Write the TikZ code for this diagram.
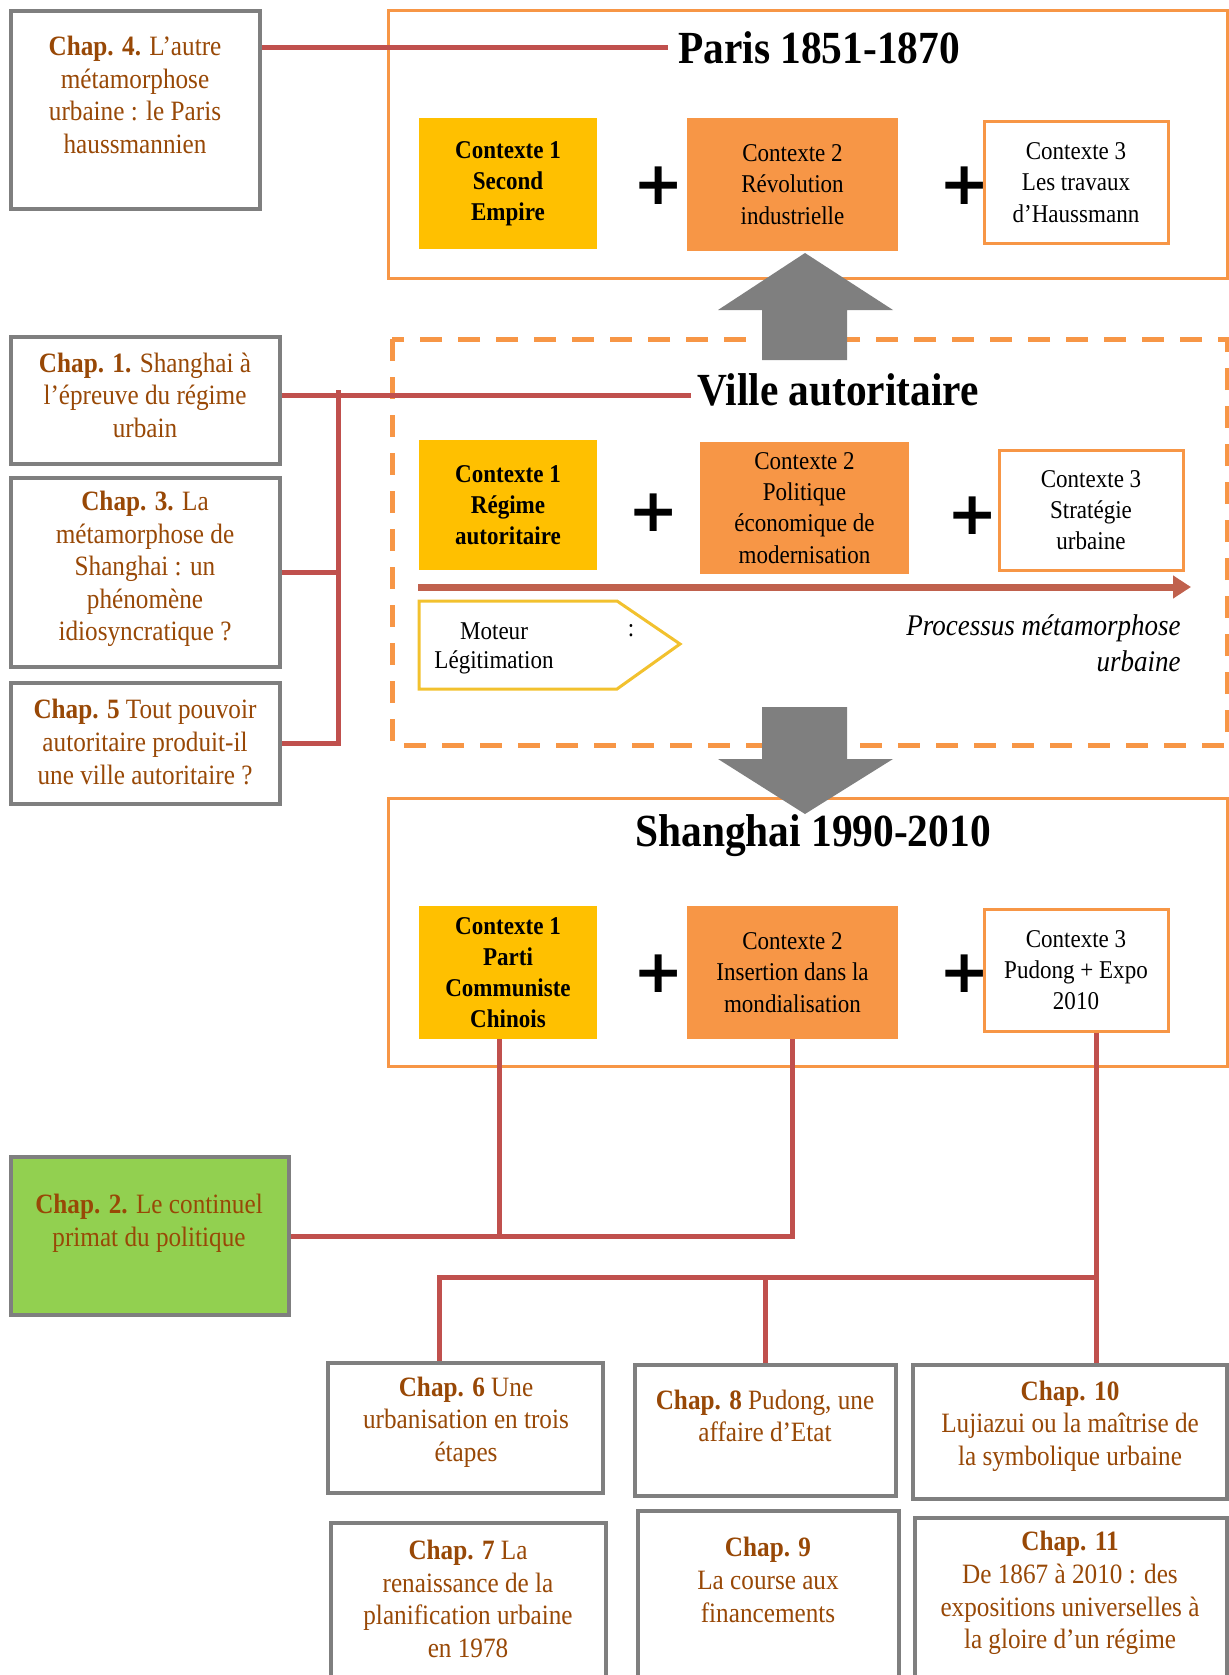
\documentclass[tikz,border=0pt]{standalone}
\usepackage{fontspec}
\setmainfont[FakeStretch=0.9]{Liberation Serif}
\newfontfamily\plusfont{DejaVu Sans}
\usepackage{tikz}
\usetikzlibrary{positioning, fit, arrows.meta}

\definecolor{jaune}{HTML}{FFC000}
\definecolor{orangec}{HTML}{F79646}
\definecolor{brun}{HTML}{984806}
\definecolor{rouge}{HTML}{C0504D}
\definecolor{rougeproc}{HTML}{C0614D}
\definecolor{gris}{HTML}{7F7F7F}
\definecolor{vert}{HTML}{92D050}
\definecolor{jauneligne}{HTML}{F2C12E}

\newcommand{\chap}[1]{\textbf{#1}}

\begin{document}
\begin{tikzpicture}
[
x=0.5pt, y=-0.5pt,
inner sep=0pt,
cadre/.style={draw=orangec, line width=1.5pt},
cadretir/.style={draw=orangec, line width=2.5pt, dash pattern=on 11pt off 8pt},
ctxone/.style={fill=jaune},
ctxtwo/.style={fill=orangec},
ctxthree/.style={draw=orangec, line width=1.5pt, fill=white},
ctxtxt/.style={align=center, font=\fontsize{12.8}{15.6}\selectfont},
ctxbold/.style={ctxtxt, font=\fontsize{12.8}{15.6}\selectfont\bfseries},
titre/.style={font=\fontsize{23}{27}\selectfont\bfseries},
chapbox/.style={draw=gris, line width=2pt, fill=white},
chaptxt/.style={align=center, text=brun, font=\fontsize{14}{16.3}\selectfont},
plussign/.style={font=\plusfont\fontsize{30}{30}\selectfont\bfseries},
redline/.style={draw=rouge, line width=2.5pt},
moteur/.style={draw=jauneligne, line width=1.5pt},
small/.style={font=\fontsize{12.8}{15.6}\selectfont},
]
\useasboundingbox (0,0) rectangle (1229,1675);

% Paris 1851-1870
\draw[cadre] (388,11) rectangle (1227,278);
\node[titre] (paris) at (819,48) {Paris 1851-1870};
\node[ctxone, fit={(419,118) (597,249)}] (p1) {};
\node[ctxtwo, fit={(687,118) (898,251)}] (p2) {};
\node[ctxthree, fit={(984,122) (1168,243)}] (p3) {};
\node[ctxbold] (p1t) at (p1.center) {Contexte 1\\Second\\Empire};
\node[ctxtxt] (p2t) at (p2.center) {Contexte 2\\Révolution\\industrielle};
\node[ctxtxt] (p3t) at (p3.center) {Contexte 3\\Les travaux\\d'Haussmann};
\node[plussign] (plusA) at (659,186) {+};
\node[plussign] (plusB) at (965,186) {+};

% Ville autoritaire
\draw[cadretir] (392,339) rectangle (1227,745);
\node[titre] (ville) at (838,390) {Ville autoritaire};
\node[ctxone, fit={(419,440) (597,570)}] (v1) {};
\node[ctxtwo, fit={(700,442) (909,574)}] (v2) {};
\node[ctxthree, fit={(999,450) (1183,570)}] (v3) {};
\node[ctxbold] (v1t) at (v1.center) {Contexte 1\\Régime\\autoritaire};
\node[ctxtxt] (v2t) at (v2.center) {Contexte 2\\Politique\\économique de\\modernisation};
\node[ctxtxt] (v3t) at (v3.center) {Contexte 3\\Stratégie\\urbaine};
\node[plussign] (plusC) at (654,513) {+};
\node[plussign] (plusD) at (973,516) {+};

\coordinate (procA) at (418,587);
\coordinate (procB) at (1191,587);
\draw[draw=rougeproc, line width=3.5pt, -{Triangle[length=9pt,width=11pt]}] (procA) -- (procB);

\draw[moteur] (419,601) -- (617,601) -- (680,644) -- (617,689) -- (419,689) -- cycle;
\node[small] (mot1) at (494,631) {Moteur};
\node[small] (mot2) at (631,631) {:};
\node[small] (mot3) at (494,662) {Légitimation};
\node[anchor=east, align=right, font=\fontsize{15}{18}\selectfont\itshape] (proc) at (1181,643) {Processus métamorphose\\urbaine};

% Shanghai 1990-2010
\draw[cadre] (388,798) rectangle (1227,1066);
\node[titre] (shanghai) at (813,836) {Shanghai 1990-2010};
\node[ctxone, fit={(419,906) (597,1039)}] (s1) {};
\node[ctxtwo, fit={(687,906) (898,1039)}] (s2) {};
\node[ctxthree, fit={(984,909) (1168,1031)}] (s3) {};
\node[ctxbold] (s1t) at (s1.center) {Contexte 1\\Parti\\Communiste\\Chinois};
\node[ctxtxt] (s2t) at (s2.center) {Contexte 2\\Insertion dans la\\mondialisation};
\node[ctxtxt] (s3t) at (s3.center) {Contexte 3\\Pudong + Expo\\2010};
\node[plussign] (plusE) at (659,974) {+};
\node[plussign] (plusF) at (965,974) {+};

% grosses fleches
\fill[gris] (762,360) -- (762,310) -- (718,310) -- (805,253) -- (893,310) -- (847,310) -- (847,360) -- cycle;
\fill[gris] (762,707) -- (847,707) -- (847,759) -- (893,759) -- (805,814) -- (718,759) -- (762,759) -- cycle;

% chapitres
\node[chapbox, fit={(11,11) (260,209)}] (ch4) {};
\node[chaptxt] (ch4t) at (135,95) {\chap{Chap. 4.} L'autre\\métamorphose\\urbaine : le Paris\\haussmannien};
\node[chapbox, fit={(11,337) (280,464)}] (ch1) {};
\node[chaptxt] (ch1t) at (145,395) {\chap{Chap. 1.} Shanghai à\\l'épreuve du régime\\urbain};
\node[chapbox, fit={(11,478) (280,667)}] (ch3) {};
\node[chaptxt] (ch3t) at (145,569) {\chap{Chap. 3.} La\\métamorphose de\\Shanghai : un\\phénomène\\idiosyncratique ?};
\node[chapbox, fit={(11,683) (280,804)}] (ch5) {};
\node[chaptxt] (ch5t) at (145,742) {\chap{Chap. 5} Tout pouvoir\\autoritaire produit-il\\une ville autoritaire ?};
\node[chapbox, fill=vert, fit={(11,1157) (289,1315)}] (ch2) {};
\node[chaptxt] (ch2t) at (149,1223) {\chap{Chap. 2.} Le continuel\\primat du politique};
\node[chapbox, fit={(328,1363) (603,1493)}] (ch6) {};
\node[chaptxt] (ch6t) at (466,1422) {\chap{Chap. 6} Une\\urbanisation en trois\\étapes};
\node[chapbox, fit={(635,1365) (896,1496)}] (ch8) {};
\node[chaptxt] (ch8t) at (765,1416) {\chap{Chap. 8} Pudong, une\\affaire d'Etat};
\node[chapbox, fit={(913,1365) (1227,1499)}] (ch10) {};
\node[chaptxt] (ch10t) at (1070,1426) {\chap{Chap. 10}\\Lujiazui ou la maîtrise de\\la symbolique urbaine};
\node[chapbox, fit={(331,1523) (606,1700)}] (ch7) {};
\node[chaptxt] (ch7t) at (468,1599) {\chap{Chap. 7} La\\renaissance de la\\planification urbaine\\en 1978};
\node[chapbox, fit={(638,1511) (899,1700)}] (ch9) {};
\node[chaptxt] (ch9t) at (768,1580) {\chap{Chap. 9}\\La course aux\\financements};
\node[chapbox, fit={(915,1518) (1227,1700)}] (ch11) {};
\node[chaptxt] (ch11t) at (1070,1593) {\chap{Chap. 11}\\De 1867 à 2010 : des\\expositions universelles à\\la gloire d'un régime};

% liaisons
\coordinate (brk) at (338,390);
\coordinate (bus) at (1096,1277);
\draw[redline] (paris.west -| ch4.east) -- ([xshift=-5pt]paris.west);
\draw[redline] ([yshift=-2.5pt]ville.west -| ch1.east) -- ([xshift=-3pt,yshift=-2.5pt]ville.west);
\draw[redline] (ch3.east) -- (ch3.east -| brk);
\draw[redline] (ch5.east) -- (ch5.east -| brk) -- (brk);
\draw[redline] ([xshift=-4.5pt]s1.south) -- ([xshift=-4.5pt]s1.south |- ch2.east);
\draw[redline] (s2.south) -- (s2.south |- ch2.east) -- (ch2.east);
\draw[redline] ([xshift=10pt]s3.south) -- ([xshift=10pt]s3.south |- ch10.north);
\draw[redline] ([xshift=-13pt]ch6.north) -- ([xshift=-13pt]ch6.north |- bus) -- (bus);
\draw[redline] (ch8.north) -- (ch8.north |- bus);
\end{tikzpicture}
\end{document}
